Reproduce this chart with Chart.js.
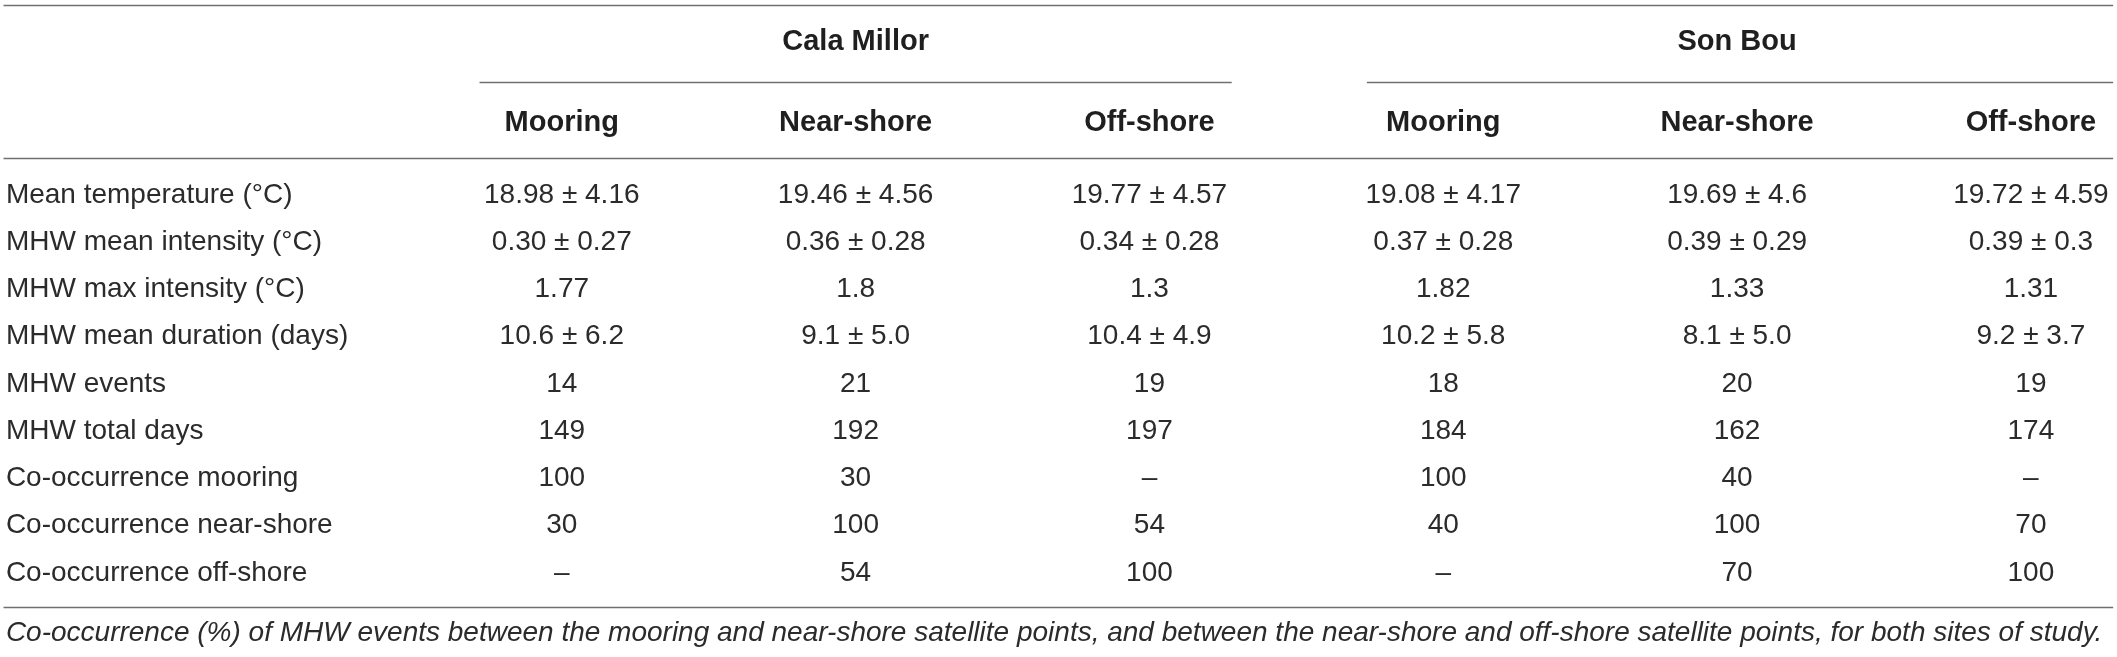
<!DOCTYPE html>
<html><head><meta charset="utf-8">
<script src="https://cdn.jsdelivr.net/npm/chart.js@4.4.1/dist/chart.umd.min.js"></script>
<style>html,body{margin:0;padding:0;background:#fff;overflow:hidden}canvas{display:block}</style>
</head><body>
<canvas id="c" width="2117" height="657"></canvas>
<script>
// ---- data ----
const rowLabels = [
  'Mean temperature (°C)',
  'MHW mean intensity (°C)',
  'MHW max intensity (°C)',
  'MHW mean duration (days)',
  'MHW events',
  'MHW total days',
  'Co-occurrence mooring',
  'Co-occurrence near-shore',
  'Co-occurrence off-shore'
];
const siteGroups = ['Cala Millor', 'Son Bou'];
const pointTypes = ['Mooring', 'Near-shore', 'Off-shore'];

const calaMillorMooring   = ['18.98 ± 4.16', '0.30 ± 0.27', '1.77', '10.6 ± 6.2', '14', '149', '100', '30', '–'];
const calaMillorNearShore = ['19.46 ± 4.56', '0.36 ± 0.28', '1.8',  '9.1 ± 5.0',  '21', '192', '30', '100', '54'];
const calaMillorOffShore  = ['19.77 ± 4.57', '0.34 ± 0.28', '1.3',  '10.4 ± 4.9', '19', '197', '–', '54', '100'];
const sonBouMooring       = ['19.08 ± 4.17', '0.37 ± 0.28', '1.82', '10.2 ± 5.8', '18', '184', '100', '40', '–'];
const sonBouNearShore     = ['19.69 ± 4.6',  '0.39 ± 0.29', '1.33', '8.1 ± 5.0',  '20', '162', '40', '100', '70'];
const sonBouOffShore      = ['19.72 ± 4.59', '0.39 ± 0.3',  '1.31', '9.2 ± 3.7',  '19', '174', '–', '70', '100'];

const caption = 'Co-occurrence (%) of MHW events between the mooring and near-shore satellite points, and between the near-shore and off-shore satellite points, for both sites of study.';

// ---- build ----
const valueColumns = [calaMillorMooring, calaMillorNearShore, calaMillorOffShore, sonBouMooring, sonBouNearShore, sonBouOffShore];
const LABEL_X = -0.892;
const datasets = [{
  label: 'labels', align: 'left',
  data: rowLabels.map((t, r) => ({x: LABEL_X, y: r, text: t})),
  pointRadius: 0
}];
valueColumns.forEach((col, ci) => {
  datasets.push({
    label: 'col' + ci, align: 'center',
    data: col.map((t, r) => ({x: ci + 1, y: r, text: t})),
    pointRadius: 0
  });
});

const INK = '#2b2b2b';
const HEAD_INK = '#1f1f1f';
const RULE = '#707070';
const layoutY = {topRule: -4.021, group: -3.24, groupRule: -2.392, sub: -1.53, headRule: -0.79, bottomRule: 8.72, caption: 9.27};

const tablePlugin = {
  id: 'tablePlugin',
  afterDatasetsDraw(chart) {
    const ctx = chart.ctx, xs = chart.scales.x, ys = chart.scales.y;
    const X = v => xs.getPixelForValue(v), Y = v => ys.getPixelForValue(v);
    ctx.save();
    // rules
    ctx.strokeStyle = RULE; ctx.lineWidth = 1.6;
    const hline = (x0, x1, yv) => { const y = Math.round(Y(yv)) + 0.5; ctx.beginPath(); ctx.moveTo(x0, y); ctx.lineTo(x1, y); ctx.stroke(); };
    hline(X(-0.9), X(6.28), layoutY.topRule);
    hline(X(-0.9), X(6.28), layoutY.headRule);
    hline(X(-0.9), X(6.28), layoutY.bottomRule);
    hline(X(0.72), X(3.28), layoutY.groupRule);
    hline(X(3.74), X(6.28), layoutY.groupRule);
    // group headers
    ctx.fillStyle = HEAD_INK; ctx.textBaseline = 'middle'; ctx.textAlign = 'center';
    ctx.font = 'bold 29px "Liberation Sans", Arial, sans-serif';
    siteGroups.forEach((g, gi) => ctx.fillText(g, X(gi * 3 + 2), Y(layoutY.group)));
    // sub headers
    siteGroups.forEach((g, gi) => pointTypes.forEach((p, pi) => ctx.fillText(p, X(gi * 3 + pi + 1), Y(layoutY.sub))));
    // cells
    ctx.fillStyle = INK;
    ctx.font = '28px "Liberation Sans", Arial, sans-serif';
    chart.data.datasets.forEach((ds, di) => {
      const meta = chart.getDatasetMeta(di);
      ctx.textAlign = ds.align;
      meta.data.forEach((el, i) => ctx.fillText(ds.data[i].text, el.x, el.y));
    });
    // caption
    ctx.font = 'italic 28px "Liberation Sans", Arial, sans-serif';
    ctx.textAlign = 'left';
    ctx.fillText(caption, X(LABEL_X), Y(layoutY.caption));
    ctx.restore();
  }
};

new Chart(document.getElementById('c'), {
  type: 'scatter',
  data: {datasets},
  options: {
    responsive: false, devicePixelRatio: 1, animation: false,
    layout: {padding: 0},
    plugins: {legend: {display: false}, tooltip: {enabled: false}},
    scales: {
      x: {type: 'linear', display: false, min: -0.912, max: 6.293},
      y: {type: 'linear', display: false, min: -4.127, max: 9.778, reverse: true}
    }
  },
  plugins: [tablePlugin]
});
</script>
</body></html>
